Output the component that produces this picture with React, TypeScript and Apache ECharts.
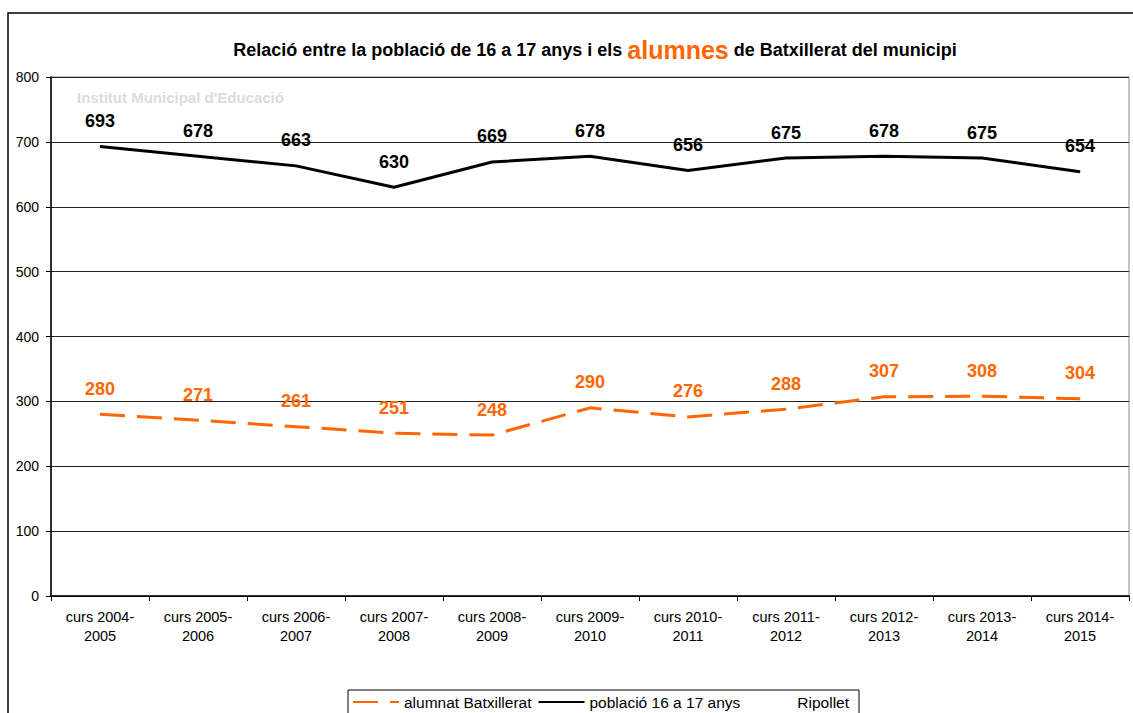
import React, { useEffect, useRef } from "react";
import * as echarts from "echarts";

const categories = [
  "curs 2004-\n2005", "curs 2005-\n2006", "curs 2006-\n2007", "curs 2007-\n2008",
  "curs 2008-\n2009", "curs 2009-\n2010", "curs 2010-\n2011", "curs 2011-\n2012",
  "curs 2012-\n2013", "curs 2013-\n2014", "curs 2014-\n2015",
];
const alumnat = [280, 271, 261, 251, 248, 290, 276, 288, 307, 308, 304];
const poblacio = [693, 678, 663, 630, 669, 678, 656, 675, 678, 675, 654];
const yTicks = { min: 0, max: 800, interval: 100 };

const FONT = "'Liberation Sans', Arial, sans-serif";
const ORANGE = "#ff6600";

export default function App() {
  const ref = useRef<HTMLDivElement>(null);
  useEffect(() => {
    if (!ref.current) return;
    const chart = echarts.init(ref.current, null, { renderer: "svg" });
    const labelCommon = {
      show: true,
      position: "top",
      distance: 16,
      formatter: "{c}",
      fontFamily: FONT,
      fontSize: 18,
      fontWeight: "bold",
    };
    chart.setOption({
      animation: false,
      backgroundColor: "#fff",
      textStyle: { fontFamily: FONT },
      title: {
        text: "{b|Relació entre la població de 16 a 17 anys i els }{o|alumnes}{b| de Batxillerat del municipi}",
        left: 590,
        textAlign: "center",
        top: 32,
        textStyle: {
          rich: {
            b: { fontFamily: FONT, fontSize: 18, fontWeight: "bold", color: "#000" },
            o: { fontFamily: FONT, fontSize: 25, color: ORANGE },
          },
        },
      },
      graphic: [
        {
          type: "rect",
          shape: { x: 8, y: 13, width: 1140, height: 720 },
          style: { fill: "none", stroke: "#000", lineWidth: 1.5 },
          silent: true,
          z: -1,
        },
        {
          type: "text",
          left: 77,
          top: 90,
          style: {
            text: "Institut Municipal d'Educació",
            fill: "#dcdcdc",
            font: `bold 15px ${FONT}`,
          },
        },
      ],
      legend: {
        left: 348,
        top: 690,
        padding: [4, 10, 4, 4],
        borderColor: "#000",
        borderWidth: 1,
        itemGap: 6,
        itemWidth: 46,
        itemHeight: 4,
        itemStyle: { opacity: 0 },
        textStyle: { fontFamily: FONT, fontSize: 15.5, color: "#000" },
        data: [
          { name: "alumnat Batxillerat" },
          { name: "població 16 a 17 anys" },
          { name: "Ripollet", icon: "rect", itemStyle: { opacity: 0 }, lineStyle: { opacity: 0 } },
        ],
      },
      grid: {
        left: 51,
        right: 4,
        top: 77,
        bottom: 117,
        show: true,
        borderColor: "#888",
        borderWidth: 1,
      },
      xAxis: {
        type: "category",
        data: categories,
        boundaryGap: true,
        axisLine: { lineStyle: { color: "#000", width: 1.5 } },
        axisTick: { show: true, length: 5, lineStyle: { color: "#000" } },
        axisLabel: { fontFamily: FONT, fontSize: 14.5, color: "#000", margin: 11, lineHeight: 19, interval: 0 },
      },
      yAxis: {
        type: "value",
        min: yTicks.min,
        max: yTicks.max,
        interval: yTicks.interval,
        axisLine: { show: true, lineStyle: { color: "#000", width: 1.5 } },
        axisTick: { show: true, length: 5, lineStyle: { color: "#000" } },
        axisLabel: { fontFamily: FONT, fontSize: 14, color: "#000", margin: 12 },
        splitLine: { show: true, lineStyle: { color: "#222", width: 1 } },
      },
      series: [
        {
          name: "alumnat Batxillerat",
          type: "line",
          data: alumnat,
          symbol: "circle",
          symbolSize: 1,
          showSymbol: true,
          color: ORANGE,
          itemStyle: { color: ORANGE },
          lineStyle: { color: ORANGE, width: 3, type: [25, 12] },
          label: { ...labelCommon, color: ORANGE },
          z: 3,
        },
        {
          name: "població 16 a 17 anys",
          type: "line",
          data: poblacio,
          symbol: "circle",
          symbolSize: 1,
          showSymbol: true,
          color: "#000",
          itemStyle: { color: "#000" },
          lineStyle: { color: "#000", width: 3 },
          label: { ...labelCommon, color: "#000" },
          z: 3,
        },
        {
          name: "Ripollet",
          type: "line",
          data: [],
          symbol: "none",
          color: "#fff",
          lineStyle: { opacity: 0 },
        },
      ],
    });
    return () => chart.dispose();
  }, []);
  return (
    <div
      ref={ref}
      style={{ position: "absolute", left: 0, top: 0, width: 1133, height: 713 }}
    />
  );
}
